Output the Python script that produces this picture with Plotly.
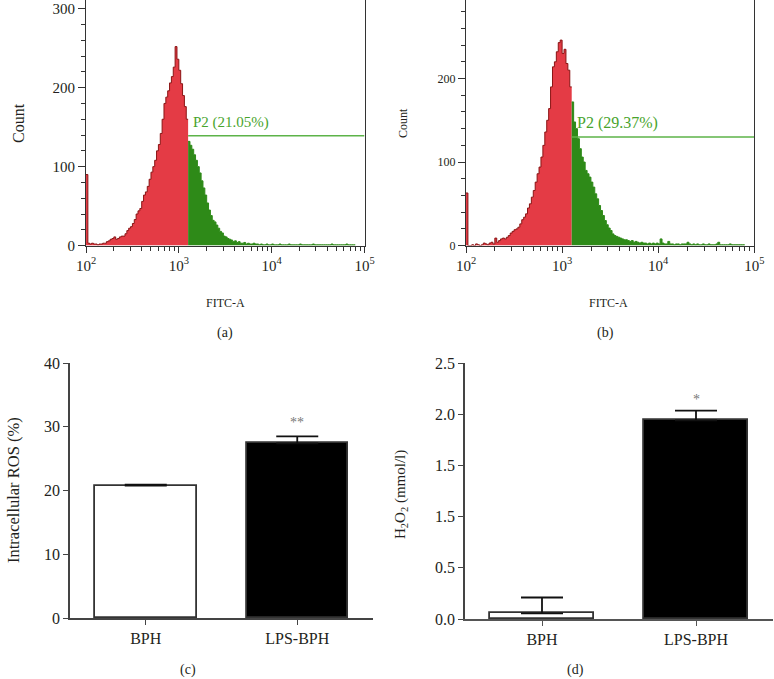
import plotly.graph_objects as go

# ---------------- data ----------------
# Flow cytometry histograms: channel k spans log10(FITC-A) = 2 + 0.02*k .. 2 + 0.02*(k+1)
bin_step_log = 0.02
gate_channel = 55  # P2 gate starts at channel 55 (log10 = 3.10)

counts_a = [90, 3, 2, 3, 2, 2, 1, 2, 2, 3,
            3, 5, 6, 8, 9, 11, 8, 9, 11, 12,
            12, 15, 19, 22, 24, 28, 33, 40, 44, 47,
            56, 64, 68, 75, 84, 93, 100, 108, 120, 128,
            142, 160, 180, 188, 196, 206, 214, 226, 252, 236,
            222, 205, 190, 176, 160,
            132, 127, 122, 115, 108, 100, 92, 82, 73, 64,
            54, 45, 38, 32, 30, 26, 22, 18, 16, 12,
            11, 9, 8, 7, 5, 6, 4, 5, 3, 3,
            4, 2, 3, 2, 2, 3, 2, 2, 1, 2,
            1, 1, 2, 1, 1, 2, 1, 1, 1, 2,
            1, 1, 1, 1, 2, 1, 1, 1, 1, 1,
            2, 1, 1, 1, 1, 1, 1, 2, 1, 1,
            1, 1, 1, 1, 1, 1, 1, 2, 1, 1,
            1, 1, 1, 1, 1, 2, 1, 1, 1, 1]

counts_b = [63, 0, 0, 1, 0, 2, 1, 0, 1, 3,
            2, 1, 3, 4, 2, 9, 4, 6, 8, 9,
            8, 10, 12, 15, 17, 19, 20, 22, 26, 31,
            34, 38, 45, 50, 58, 66, 76, 86, 94, 106,
            120, 136, 150, 164, 190, 214, 220, 232, 243, 246,
            230, 235, 218, 210, 190,
            172, 148, 140, 128, 116, 106, 100, 90, 86, 82,
            76, 70, 62, 56, 48, 42, 36, 30, 25, 21,
            18, 14, 12, 11, 10, 9, 8, 7, 7, 6,
            5, 6, 4, 5, 4, 3, 4, 3, 3, 2,
            3, 2, 3, 2, 3, 2, 8, 3, 2, 2,
            5, 2, 2, 1, 2, 2, 1, 2, 2, 2,
            4, 2, 1, 2, 1, 2, 1, 1, 2, 1,
            1, 2, 1, 1, 1, 2, 4, 1, 1, 1,
            1, 1, 2, 1, 1, 1, 1, 1, 1, 1]

gate_label_a = "P2 (21.05%)"
gate_label_b = "P2 (29.37%)"
gate_level_a = 139
gate_level_b = 130

# Bar charts
groups = ["BPH", "LPS-BPH"]
ros_mean = [20.75, 27.4]
ros_err = [0.15, 1.1]
h2o2_mean = [0.055, 1.94]
h2o2_err = [0.155, 0.095]
h2o2_tickvals = [0.0, 0.5, 1.0, 1.5, 2.0, 2.5]
h2o2_ticktext = ["0.0", "0.5", "1.5", "1.5", "2.0", "2.5"]  # as printed in the figure

# ---------------- helpers ----------------
W, H = 774, 679
FONT = "Liberation Serif, Times New Roman, serif"
TXT = "#231f20"
RED_FILL = "#e43b45"
RED_LINE = "#8a1414"
GREEN_FILL = "#2e8a18"
GATE_GREEN = "#5db349"
LABEL_GREEN = "#48a42c"


def px_x(p):
    return p / W


def px_y(p):
    return 1 - p / H


def step_xy(counts, start, stop):
    xs, ys = [], []
    for k in range(start, stop):
        xs.append(10 ** (2 + bin_step_log * k))
        ys.append(counts[k])
    xs.append(10 ** (2 + bin_step_log * stop))
    ys.append(counts[stop - 1])
    return xs, ys


fig = go.Figure()

for counts, xa, ya, lvl, lab, fsz in [(counts_a, "x", "y", gate_level_a, gate_label_a, 15),
                                      (counts_b, "x2", "y2", gate_level_b, gate_label_b, 16)]:
    n = len(counts)
    xr, yr = step_xy(counts, 0, gate_channel)
    fig.add_trace(go.Scatter(x=xr, y=yr, mode="lines", line=dict(shape="hv", color=RED_LINE, width=1),
                             fill="tozeroy", fillcolor=RED_FILL, xaxis=xa, yaxis=ya, showlegend=False,
                             hoverinfo="skip"))
    xg, yg = step_xy(counts, gate_channel, n)
    fig.add_trace(go.Scatter(x=xg, y=yg, mode="lines", line=dict(shape="hv", color=GREEN_FILL, width=1),
                             fill="tozeroy", fillcolor=GREEN_FILL, xaxis=xa, yaxis=ya, showlegend=False,
                             hoverinfo="skip"))
    gx0 = 10 ** (2 + bin_step_log * gate_channel)
    fig.add_trace(go.Scatter(x=[gx0, 10 ** 5], y=[lvl, lvl], mode="lines",
                             line=dict(color=GATE_GREEN, width=1.5), xaxis=xa, yaxis=ya,
                             showlegend=False, hoverinfo="skip"))
    fig.add_annotation(x=2 + bin_step_log * gate_channel + 0.035, y=lvl + 17, xref=xa, yref=ya,
                       text=lab, showarrow=False, xanchor="left", yanchor="middle",
                       font=dict(family=FONT, size=fsz, color=LABEL_GREEN))

# bar charts
for means, errs, xa, ya in [(ros_mean, ros_err, "x3", "y3"), (h2o2_mean, h2o2_err, "x4", "y4")]:
    fig.add_trace(go.Bar(x=groups, y=means, width=0.67, xaxis=xa, yaxis=ya, showlegend=False,
                         marker=dict(color=["white", "black"], line=dict(color="#333333", width=1.8)),
                         error_y=dict(type="data", symmetric=False, array=errs, arrayminus=[0, 0],
                                      color="#111111", thickness=1.8, width=21),
                         hoverinfo="skip"))

fig.add_annotation(x="LPS-BPH", y=30.6, xref="x3", yref="y3", text="**", showarrow=False,
                   font=dict(family=FONT, size=14, color="#777777"))
fig.add_annotation(x="LPS-BPH", y=2.14, xref="x4", yref="y4", text="*", showarrow=False,
                   font=dict(family=FONT, size=14, color="#777777"))

# axes
hist_common = dict(showline=True, linecolor="#333333", linewidth=1, mirror=True, showgrid=False,
                   zeroline=False, ticks="outside", tickcolor="#333333", automargin=False)
bar_common = dict(showline=True, linewidth=1.5, ticks="outside", ticklen=5, showgrid=False,
                  zeroline=False, automargin=False, tickfont=dict(family=FONT, size=16, color=TXT))
minor_x = [m * 10 ** e for e in (2, 3, 4) for m in range(2, 10)]
fig.update_layout(
    xaxis=dict(domain=[px_x(86), px_x(364.5)], type="log", range=[2, 5], anchor="y",
               tickvals=[1e2, 1e3, 1e4, 1e5],
               ticktext=["10<sup>2</sup>", "10<sup>3</sup>", "10<sup>4</sup>", "10<sup>5</sup>"],
               ticklen=6, tickfont=dict(family=FONT, size=15, color=TXT),
               minor=dict(tickvals=minor_x, ticks="outside", ticklen=4, tickcolor="#333333"),
               **hist_common),
    yaxis=dict(domain=[px_y(245.6), 1], range=[0, 311], anchor="x", tickvals=[0, 100, 200, 300],
               ticklen=7, tickfont=dict(family=FONT, size=15, color=TXT),
               minor=dict(dtick=20, ticks="outside", ticklen=4, tickcolor="#333333"),
               **hist_common),
    xaxis2=dict(domain=[px_x(466), px_x(754.3)], type="log", range=[2, 5], anchor="y2",
                tickvals=[1e2, 1e3, 1e4, 1e5],
                ticktext=["10<sup>2</sup>", "10<sup>3</sup>", "10<sup>4</sup>", "10<sup>5</sup>"],
                ticklen=6, tickfont=dict(family=FONT, size=15, color=TXT),
                minor=dict(tickvals=minor_x, ticks="outside", ticklen=4, tickcolor="#333333"),
                **hist_common),
    yaxis2=dict(domain=[px_y(245.6), 1], range=[0, 294], anchor="x2", tickvals=[0, 100, 200],
                ticklen=7, tickfont=dict(family=FONT, size=12, color=TXT),
                minor=dict(dtick=20, ticks="outside", ticklen=4, tickcolor="#333333"),
                **hist_common),
    xaxis3=dict(domain=[px_x(70), px_x(373)], anchor="y3", range=[-0.5, 1.5],
                linecolor="#444444", tickcolor="#444444", **bar_common),
    yaxis3=dict(domain=[px_y(618), px_y(363)], anchor="x3", range=[0, 40], tickvals=[0, 10, 20, 30, 40],
                linecolor="#444444", tickcolor="#444444", **bar_common),
    xaxis4=dict(domain=[px_x(465), px_x(773)], anchor="y4", range=[-0.5, 1.5],
                linecolor="#555555", tickcolor="#555555", **bar_common),
    yaxis4=dict(domain=[px_y(619), px_y(363)], anchor="x4", range=[0, 2.5], tickvals=h2o2_tickvals,
                ticktext=h2o2_ticktext, linecolor="#444444", tickcolor="#444444", **bar_common),
)

# axis titles and panel labels (paper coordinates)
def label(text, x, y, size, angle=0):
    fig.add_annotation(x=px_x(x), y=px_y(y), xref="paper", yref="paper", text=text, showarrow=False,
                       textangle=angle, xanchor="center", yanchor="middle",
                       font=dict(family=FONT, size=size, color=TXT))

label("Count", 18, 123, 16, -90)
label("Count", 403, 123, 12, -90)
label("FITC-A", 225, 303, 12)
label("FITC-A", 608, 303, 12)
label("(a)", 225, 333, 14)
label("(b)", 605, 333, 14)
label("Intracellular ROS (%)", 13, 490, 16.5, -90)
label("H<sub>2</sub>O<sub>2</sub> (mmol/l)", 401, 495, 15, -90)
label("(c)", 188, 670, 14)
label("(d)", 575, 670, 14)

fig.update_layout(width=W, height=H, margin=dict(l=0, r=0, t=0, b=0, pad=0, autoexpand=False),
                  paper_bgcolor="white", plot_bgcolor="white", showlegend=False, bargap=0)

fig.write_html("out.html", config={"displayModeBar": False},
               post_script="document.body.style.margin='0px';document.body.style.padding='0px';")
